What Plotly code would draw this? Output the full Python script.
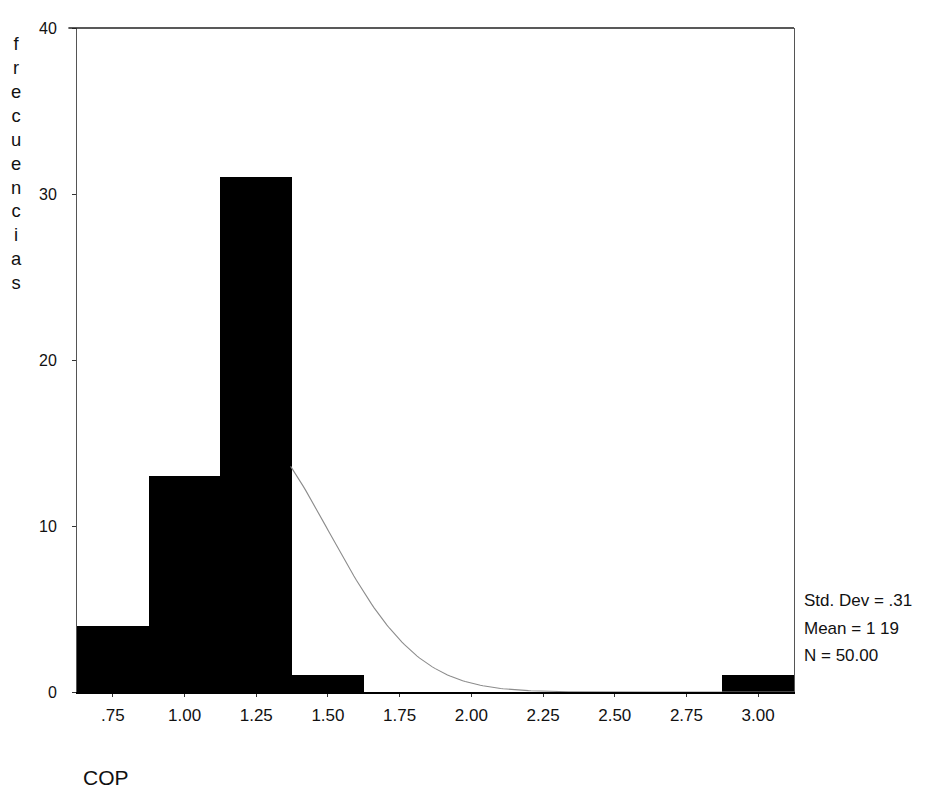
import numpy as np
import plotly.graph_objects as go

# ---- data ----
bin_centers = [0.75, 1.00, 1.25, 1.50, 1.75, 2.00, 2.25, 2.50, 2.75, 3.00]
frequencies = [4, 13, 31, 1, 0, 0, 0, 0, 0, 1]
bin_width = 0.25
tick_vals = [0.75, 1.00, 1.25, 1.50, 1.75, 2.00, 2.25, 2.50, 2.75, 3.00]
tick_text = [".75", "1.00", "1.25", "1.50", "1.75", "2.00", "2.25", "2.50", "2.75", "3.00"]
y_ticks = [0, 10, 20, 30, 40]
std_dev = 0.31
mean = 1.19
n_total = 50
stats_lines = ["Std. Dev = .31", "Mean = 1 19", "N = 50.00"]
y_title = "frecuencias"
x_title = "COP"

FONT = "Liberation Sans, Arial, sans-serif"

# fitted normal curve (scaled to counts per bin), visible part to the right of the bars
xc = np.linspace(1.37, 3.125, 200)
yc = n_total * bin_width / (std_dev * np.sqrt(2 * np.pi)) * np.exp(-((xc - mean) ** 2) / (2 * std_dev ** 2))

fig = go.Figure()
fig.add_trace(go.Bar(
    x=bin_centers, y=frequencies, width=[bin_width] * len(bin_centers),
    marker=dict(color="#000000", line=dict(width=0)), showlegend=False,
))
fig.add_trace(go.Scatter(
    x=xc, y=yc, mode="lines", line=dict(color="#8c8c8c", width=1.1),
    showlegend=False, hoverinfo="skip",
))

# page offset of 8px (body margin) is compensated here
OFF = 8
L, R, T, B = 77 - OFF, 794 - OFF, 21 - OFF, 692 - OFF
W, H = 925, 805

fig.update_layout(
    width=W, height=H, autosize=False,
    margin=dict(l=L, r=W - R, t=T, b=H - B, pad=0),
    paper_bgcolor="white", plot_bgcolor="white",
    bargap=0,
    font=dict(family=FONT, color="#111111"),
)
fig.update_xaxes(
    range=[0.625, 3.125], tickvals=tick_vals, ticktext=tick_text,
    showgrid=False, zeroline=False,
    showline=True, linecolor="#000000", linewidth=2, mirror=False,
    ticks="outside", ticklen=3, tickcolor="#333333",
    tickfont=dict(size=17, family=FONT, color="#111111"),
    ticklabelstandoff=4,
)
fig.update_yaxes(
    range=[0, 40], tickvals=y_ticks, ticktext=[str(v) for v in y_ticks],
    showgrid=False, zeroline=False,
    showline=True, linecolor="#555555", linewidth=1, mirror=True,
    ticks="outside", ticklen=4, tickcolor="#333333",
    tickfont=dict(size=16, family=FONT, color="#111111"),
    ticklabelstandoff=12,
)
# top frame line
fig.add_shape(type="line", xref="paper", yref="paper", x0=-0.012, x1=1, y0=1, y1=1,
              line=dict(color="#222222", width=1.5))

pw, ph = R - L, B - T
def px(xp):
    return (xp - OFF - L) / pw
def py(yp):
    return (B - (yp - OFF)) / ph

# vertical stacked y title
fig.add_annotation(
    text="<br>".join(list(y_title)), xref="paper", yref="paper",
    x=px(16), y=py(24), xanchor="center", yanchor="top", showarrow=False,
    font=dict(size=18.4, family=FONT, color="#111111"), align="center",
)
# x title
fig.add_annotation(
    text=x_title, xref="paper", yref="paper",
    x=px(81), y=py(778), xanchor="left", yanchor="middle", showarrow=False,
    font=dict(size=21, family=FONT, color="#111111"),
)
# stats
for line, yy in zip(stats_lines, [600, 628, 655]):
    fig.add_annotation(
        text=line, xref="paper", yref="paper",
        x=px(802), y=py(yy), xanchor="left", yanchor="middle", showarrow=False,
        font=dict(size=17, family=FONT, color="#111111"),
    )

fig.write_html("out.html")
